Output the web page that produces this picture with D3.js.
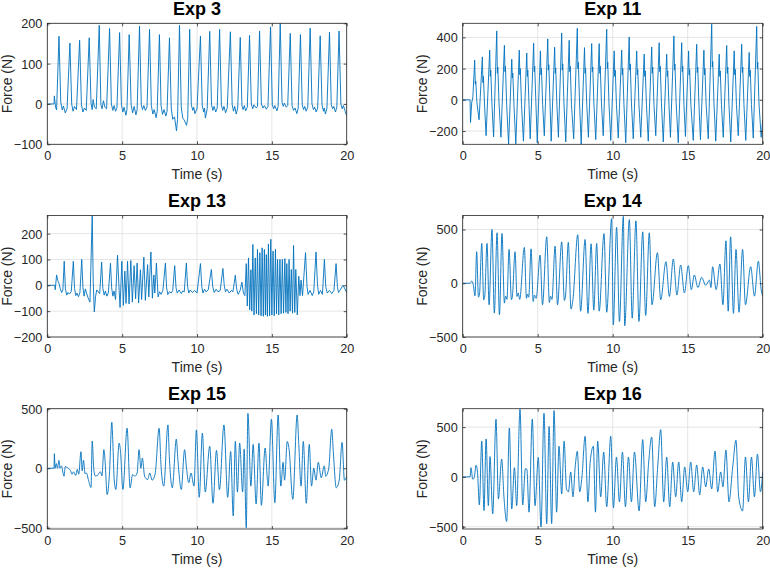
<!DOCTYPE html>
<html><head><meta charset="utf-8">
<script src="https://cdn.jsdelivr.net/npm/d3@7"></script>
<style>body{margin:0;background:#fff}svg text{font-family:"Liberation Sans",Arial,Helvetica,sans-serif}</style>
</head><body><svg id="c" width="770" height="568"></svg>
<script>
// ---------- data (time s, force N) ----------
const titles = ["Exp 3","Exp 11","Exp 13","Exp 14","Exp 15","Exp 16"];
const xTicks = [0,5,10,15,20];
const yTicks3 = [-100,0,100,200];
const yTicks11 = [-200,0,200,400];
const yTicks13 = [-200,-100,0,100,200];
const yTicks14 = [-500,0,500];
const yTicks15 = [-500,0,500];
const yTicks16 = [-500,0,500];
const yRange3 = [-100,200], yRange11 = [-285,490], yRange13 = [-200,270];
const yRange14 = [-500,630], yRange15 = [-510,500], yRange16 = [-523,685];

const exp3 = [[0,0],[0.45,0],[0.47,20],[0.55,-8],[0.62,-15],[0.78,168],[0.9,5],[1.0,-15],[1.08,-5],[1.2,-22],[1.32,-12],
[1.51,151],[1.63,0],[1.72,-18],[1.82,-6],[1.95,-14],[2.16,158],[2.28,-2],[2.38,-20],[2.48,-10],[2.6,-16],
[2.8,164],[2.92,2],[3.0,-14],[3.06,11],[3.15,-8],[3.27,-12],[3.47,195],[3.58,-2],[3.66,-12],[3.75,8],[3.85,-8],[3.96,-12],
[4.16,187],[4.28,0],[4.38,-16],[4.46,-4],[4.56,-18],[4.65,-10],[4.83,177],[4.95,-2],[5.05,-20],[5.13,-8],[5.25,-28],[5.32,-14],
[5.47,172],[5.6,-2],[5.7,-22],[5.8,-6],[5.92,-27],[6.0,-14],[6.16,193],[6.28,-2],[6.36,-14],[6.45,-4],[6.55,-16],[6.66,-8],
[6.83,185],[6.95,-4],[7.05,-25],[7.14,-14],[7.27,-34],[7.34,-18],[7.49,172],[7.6,-4],[7.7,-26],[7.8,-14],[7.92,-30],[8.0,-18],
[8.16,164],[8.28,-10],[8.38,-38],[8.5,-32],[8.63,-67],[8.7,-38],[8.83,195],[8.95,-10],[9.05,-35],[9.15,-40],[9.3,-53],[9.38,-35],
[9.51,185],[9.62,-2],[9.72,-16],[9.78,-8],[9.86,-24],[10.0,-12],[10.23,168],[10.35,-4],[10.45,-20],[10.5,-10],[10.56,-35],[10.68,-12],
[10.85,180],[10.97,-2],[11.06,-16],[11.14,-6],[11.25,-20],[11.35,-10],[11.51,185],[11.63,-2],[11.72,-16],[11.8,-6],[11.91,-22],[12.02,-10],
[12.23,179],[12.35,-2],[12.44,-18],[12.52,-6],[12.62,-25],[12.72,-10],[12.89,165],[13.0,-4],[13.08,-14],[13.16,-4],[13.25,-17],[13.36,-8],
[13.51,170],[13.63,0],[13.72,-12],[13.8,-2],[13.96,-10],[14.04,-6],[14.18,181],[14.3,0],[14.4,-10],[14.5,-4],[14.63,-13],[14.74,-6],
[14.91,191],[15.03,-2],[15.12,-12],[15.2,-4],[15.34,-17],[15.42,-6],[15.56,200],[15.68,4],[15.76,-6],[15.84,2],[15.96,-8],[16.06,-4],
[16.23,175],[16.35,-4],[16.45,-16],[16.55,-10],[16.67,-24],[16.76,-10],[16.91,172],[17.03,-2],[17.12,-14],[17.2,-6],[17.29,-18],[17.4,-8],
[17.56,188],[17.68,0],[17.78,-14],[17.86,-8],[17.96,-20],[18.06,-10],[18.23,169],[18.35,-2],[18.45,-18],[18.5,-10],[18.58,-25],[18.68,-10],
[18.85,178],[18.97,-2],[19.06,-12],[19.14,-6],[19.25,-20],[19.34,-8],[19.49,181],[19.61,0],[19.7,-12],[19.78,-4],[19.9,-18],[20,-30]];

const exp11 = [[0,0],[0.49,0],[0.52,-145],[0.6,-20],[0.68,20],
[0.8,254],[0.84,100],[0.87,120],[0.95,-20],[1.09,-128],
[1.31,275],[1.35,110],[1.38,150],[1.46,-40],[1.56,-230],
[1.8,318],[1.84,150],[1.87,190],[1.95,-30],[2.06,-237],
[2.27,441],[2.31,170],[2.34,210],[2.42,-20],[2.55,-240],
[2.78,349],[2.82,180],[2.85,215],[2.93,-30],[3.06,-285],
[3.27,260],[3.31,140],[3.34,170],[3.42,-40],[3.54,-282],
[3.77,318],[3.81,160],[3.84,200],[3.92,-30],[4.05,-265],
[4.27,300],[4.31,150],[4.34,190],[4.42,-30],[4.5,-250],
[4.73,362],[4.77,180],[4.8,215],[4.88,-20],[4.97,-275],
[5.18,313],[5.22,160],[5.25,200],[5.33,-30],[5.44,-230],
[5.67,390],[5.71,190],[5.74,225],[5.82,-20],[5.9,-265],
[6.13,337],[6.17,170],[6.2,205],[6.28,-30],[6.38,-240],
[6.6,428],[6.64,190],[6.67,230],[6.75,-20],[6.87,-270],
[7.1,381],[7.14,180],[7.17,215],[7.25,-30],[7.4,-250],
[7.64,458],[7.68,200],[7.71,240],[7.79,-20],[7.9,-285],
[8.12,334],[8.16,170],[8.19,205],[8.27,-30],[8.38,-240],
[8.6,360],[8.64,180],[8.67,210],[8.75,-30],[8.87,-255],
[9.1,360],[9.14,170],[9.17,215],[9.25,-20],[9.37,-230],
[9.6,452],[9.64,200],[9.67,240],[9.75,-20],[9.87,-260],
[10.1,313],[10.14,150],[10.17,190],[10.25,-30],[10.37,-245],
[10.6,318],[10.64,160],[10.67,200],[10.75,-30],[10.87,-275],
[11.1,402],[11.14,190],[11.17,230],[11.25,-20],[11.37,-250],
[11.6,313],[11.64,160],[11.67,195],[11.75,-30],[11.87,-240],
[12.1,292],[12.14,150],[12.17,185],[12.25,-30],[12.37,-265],
[12.6,338],[12.64,170],[12.67,210],[12.75,-30],[12.87,-230],
[13.1,366],[13.14,180],[13.17,215],[13.25,-20],[13.37,-270],
[13.6,292],[13.64,150],[13.67,185],[13.75,-30],[13.85,-240],
[14.08,409],[14.12,190],[14.15,230],[14.23,-20],[14.37,-275],
[14.6,366],[14.64,180],[14.67,215],[14.75,-30],[14.85,-235],
[15.06,313],[15.1,160],[15.13,195],[15.21,-30],[15.37,-260],
[15.6,356],[15.64,175],[15.67,210],[15.75,-30],[15.85,-255],
[16.08,318],[16.12,160],[16.15,200],[16.23,-30],[16.37,-250],
[16.6,484],[16.64,210],[16.67,245],[16.75,-20],[16.87,-265],
[17.1,292],[17.14,150],[17.17,185],[17.25,-30],[17.37,-240],
[17.6,348],[17.64,170],[17.67,210],[17.75,-30],[17.87,-270],
[18.1,313],[18.14,160],[18.17,195],[18.25,-30],[18.37,-230],
[18.6,356],[18.64,175],[18.67,210],[18.75,-30],[18.87,-260],
[19.1,303],[19.14,150],[19.17,190],[19.25,-30],[19.37,-245],
[19.6,470],[19.64,200],[19.67,240],[19.75,-20],[19.9,-240],[20,-130]];

const exp13 = [[0,0],[0.5,0],[0.53,-17],[0.62,40],[0.7,18],[0.78,8],[0.86,-12],[0.96,-28],[1.04,-18],
[1.13,93],[1.21,-15],[1.3,-38],[1.38,-28],[1.48,-34],[1.6,-24],
[1.74,93],[1.82,-12],[1.9,-40],[1.98,-30],[2.08,-44],[2.18,-28],
[2.3,100],[2.38,-8],[2.46,-42],[2.54,-14],[2.62,-30],[2.72,-48],[2.85,-65],
[3.0,270],[3.07,10],[3.14,-103],[3.22,-45],[3.3,-18],[3.4,-25],[3.5,-32],
[3.63,90],[3.71,-12],[3.8,-38],[3.88,-22],[3.98,-42],[4.08,-28],
[4.22,85],[4.3,-10],[4.38,-42],[4.46,-22],[4.56,-55],
[4.69,116],[4.8,-20],[4.86,-86],[4.98,93],[5.08,-78],[5.18,55],[5.26,-70],[5.36,93],[5.46,-72],[5.58,96],[5.68,-65],[5.8,76],[5.9,-52],[6.0,86],[6.1,-68],[6.22,60],[6.3,-55],[6.45,109],[6.55,-58],[6.7,80],[6.78,-45],[6.92,129],[7.02,-50],[7.12,40],[7.18,-30],[7.29,86],[7.4,-45],[7.5,-25],[7.6,-35],[7.72,-20],
[7.89,86],[7.97,-10],[8.05,-36],[8.15,-25],[8.28,-30],[8.38,-20],
[8.51,76],[8.6,-10],[8.68,-30],[8.8,-18],[8.95,-32],[9.05,-22],[9.15,-25],
[9.29,86],[9.37,-5],[9.45,-30],[9.55,-18],[9.7,-28],[9.85,-20],[10.0,-30],
[10.23,84],[10.32,-5],[10.4,-30],[10.5,-15],[10.6,-25],[10.75,-18],
[10.96,61],[11.05,-5],[11.15,-28],[11.28,-15],[11.4,-25],[11.55,-20],
[11.73,65],[11.82,0],[11.9,-25],[12.0,-15],[12.15,-30],[12.3,-20],[12.4,-25],
[12.56,39],[12.65,-15],[12.75,-35],[12.88,-20],[13.0,12],[13.1,-30],[13.2,-40],
[13.29,84],[13.36,-80],[13.44,106],[13.52,-95],[13.6,60],[13.66,-100],[13.73,158],[13.81,-115],[13.89,106],[13.97,-110],[14.04,139],[14.12,-115],[14.2,126],[14.28,-118],[14.35,145],[14.43,-120],[14.5,139],[14.57,-115],[14.63,119],[14.7,-120],[14.77,160],[14.85,-118],[14.93,178],[15.0,-115],[15.08,132],[15.16,-118],[15.24,139],[15.31,-110],[15.38,100],[15.46,-115],[15.54,100],[15.62,-110],[15.7,100],[15.78,-108],[15.87,103],[15.94,-105],[16.0,84],[16.08,-110],[16.15,100],[16.22,-100],[16.3,61],[16.38,-108],[16.45,154],[16.53,-105],[16.6,61],[16.7,-115],[16.8,35],[16.88,-40],[16.95,20],[17.05,-40],
[17.25,126],[17.35,-5],[17.42,-35],[17.55,-20],[17.7,-40],[17.8,-25],
[17.95,129],[18.05,0],[18.13,-35],[18.25,-20],[18.38,-35],
[18.51,100],[18.6,-5],[18.7,-30],[18.85,-20],[19.0,-32],[19.15,-20],
[19.29,84],[19.38,-5],[19.45,-28],[19.6,-15],[19.75,0],[19.85,-10],[20,-28]];

const exp14 = [[0,0],[0.5,0],[0.6,20],[0.7,-10],[0.82,-117],[0.93,293],[1.05,-129],[1.12,-100],[1.27,370],[1.4,-154],[1.47,-120],[1.62,370],[1.76,-200],
[1.95,500],[2.11,-278],[2.29,469],[2.45,-293],[2.62,463],[2.78,-185],[2.86,-120],[2.95,-150],[3.09,314],[3.25,-154],[3.32,-110],[3.49,293],[3.62,-123],[3.7,-90],[3.8,-150],
[4.11,333],[4.25,-140],[4.32,-100],[4.4,-130],[4.56,320],[4.7,-170],[4.78,-110],[4.9,-140],[5.16,262],[5.32,-200],[5.6,432],[5.78,-180],[5.85,-120],[5.95,-150],
[6.16,345],[6.32,-200],[6.6,385],[6.78,-160],[6.86,-110],[7.04,380],[7.22,-240],[7.35,-150],[7.67,451],[7.86,-260],[8.16,407],[8.35,-280],[8.56,367],[8.74,-250],
[8.93,370],[9.1,-260],[9.42,462],[9.6,-270],[9.93,601],[10.04,-387],[10.26,520],[10.45,-356],[10.71,623],[10.8,-396],[11.11,592],[11.3,-325],[11.55,580],[11.75,-356],
[12.0,478],[12.2,-300],[12.44,469],[12.62,-200],[12.98,284],[13.2,-154],[13.55,200],[13.78,-123],[14.04,225],[14.28,-110],[14.53,170],[14.78,-90],[15.04,164],[15.24,-60],
[15.44,77],[15.68,-40],[15.93,55],[16.2,-20],[16.45,30],[16.55,-40],[16.66,154],[16.9,-60],[17.15,179],[17.35,-200],[17.55,395],[17.7,-260],[17.86,432],[18.05,-280],
[18.22,314],[18.42,-270],[18.66,314],[18.85,-200],[19.2,154],[19.45,-120],[19.71,206],[19.9,-60],[20,-123]];

const exp15 = [[0,0],[0.45,0],[0.47,122],[0.52,0],[0.6,39],[0.68,0],[0.78,67],[0.85,0],[0.95,20],[1.05,-40],[1.12,-67],[1.2,14],[1.28,10],[1.4,0],[1.55,-20],[1.65,-50],[1.75,-30],[1.9,-60],[2.0,-10],[2.1,-50],
[2.25,139],[2.33,-22],[2.42,67],[2.52,-45],[2.62,-40],[2.75,-100],[2.92,-161],[3.0,228],[3.1,0],[3.2,-64],[3.35,-60],[3.55,-30],[3.65,-64],[3.78,156],[3.85,78],[4.0,-222],[4.15,-50],
[4.31,386],[4.38,211],[4.47,-97],[4.58,-178],[4.8,211],[4.88,156],[5.05,-178],[5.33,336],[5.53,-164],[5.7,-53],[5.85,-67],[6.0,-40],[6.13,156],[6.25,0],[6.35,86],[6.5,-67],[6.7,-95],[6.85,-40],[7.0,-100],[7.2,-50],
[7.47,336],[7.6,14],[7.78,-150],[8.06,364],[8.15,100],[8.35,-164],[8.62,245],[8.72,78],[8.95,-178],[9.17,156],[9.3,0],[9.45,-122],[9.6,-40],[9.8,-150],[9.96,322],[10.15,-244],[10.36,295],[10.55,-200],[10.85,184],[11.07,-294],
[11.3,150],[11.5,-180],[11.8,364],[12.05,-244],[12.25,140],[12.42,-400],[12.56,225],[12.7,-200],[12.85,211],[13.05,-200],[13.15,160],[13.29,-500],[13.4,461],[13.6,-150],[13.75,200],[13.95,-300],[14.14,211],[14.3,-311],[14.55,170],[14.7,-94],[14.75,-150],
[14.97,411],[15.2,-289],[15.42,447],[15.6,-150],[15.75,50],[15.85,-100],[16.03,225],[16.15,160],[16.4,-261],[16.69,447],[16.8,200],[16.95,-150],[17.1,225],[17.3,-294],[17.5,200],[17.65,-150],[17.8,0],[17.95,-100],[18.1,50],[18.3,-80],[18.5,20],[18.6,-67],[18.8,0],
[19.0,328],[19.1,150],[19.3,-164],[19.5,-100],[19.69,217],[19.85,-100],[20,-67]];

const exp16 = [[0,0],[0.49,0],[0.55,93],[0.67,-23],[0.77,-5],[0.89,117],[0.98,60],[1.11,-281],[1.27,358],[1.42,-338],[1.56,381],[1.71,-288],[1.82,204],[2.0,-371],[2.22,580],[2.38,-221],[2.6,180],[2.75,-200],[2.93,-447],
[3.11,490],[3.27,-321],[3.45,93],[3.6,-288],[3.82,680],[4.0,-281],[4.18,83],[4.28,76],[4.42,-354],[4.64,580],[4.82,-288],[5.04,195],[5.22,-503],[5.42,640],[5.6,-470],[5.76,507],[5.93,-470],[6.09,666],[6.26,-354],[6.42,308],[6.6,-172],[6.76,358],[6.92,-122],
[7.05,-150],[7.2,50],[7.35,-200],[7.5,100],[7.64,257],[7.8,-150],[7.95,0],[8.16,408],[8.35,-250],[8.5,150],[8.71,308],[8.85,-354],[9.0,358],[9.2,-200],[9.4,250],[9.6,-300],[9.87,408],[10.05,-309],[10.25,200],[10.45,-250],[10.65,250],[10.85,-300],[11.05,200],[11.25,-250],[11.45,250],[11.76,-342],
[12.0,375],[12.2,-250],[12.4,150],[12.6,401],[12.8,-300],[13.0,100],[13.2,475],[13.4,-250],[13.6,200],[13.8,-300],[14.0,150],[14.2,-200],[14.4,150],[14.6,-250],[14.8,100],[15.0,-150],[15.2,150],[15.4,-150],[15.6,120],[15.8,-180],[16.0,100],[16.2,-100],[16.4,80],[16.6,-120],
[16.82,260],[17.0,-150],[17.2,50],[17.35,-100],[17.55,270],[17.75,-250],[18.0,100],[18.22,368],[18.4,-200],[18.66,-342],[18.85,200],[19.05,-250],[19.25,200],[19.45,-200],[19.65,230],[19.85,-150],[20,50]];

// ---------- layout ----------
const cols = [{x0:47.3,x1:346.7,lab:11.7},{x0:462.7,x1:762.7,lab:427}];
const rows = [{y0:23.3,y1:144.3},{y0:215.5,y1:337},{y0:408.7,y1:529}];
const panels = [
 {data:exp3, dom:yRange3, ticks:yTicks3, c:0, r:0, curve:d3.curveLinear},
 {data:exp11, dom:yRange11, ticks:yTicks11, c:1, r:0, curve:d3.curveLinear},
 {data:exp13, dom:yRange13, ticks:yTicks13, c:0, r:1, curve:d3.curveLinear},
 {data:exp14, dom:yRange14, ticks:yTicks14, c:1, r:1, curve:d3.curveMonotoneX},
 {data:exp15, dom:yRange15, ticks:yTicks15, c:0, r:2, curve:d3.curveMonotoneX},
 {data:exp16, dom:yRange16, ticks:yTicks16, c:1, r:2, curve:d3.curveMonotoneX}
];
const svg = d3.select("#c");
const axCol = "#262626", gridCol = "#dedede", lineCol = "#0072bd";

panels.forEach((p,i)=>{
  const {x0,x1,lab} = cols[p.c], {y0,y1} = rows[p.r];
  const x = d3.scaleLinear().domain([0,20]).range([x0,x1]);
  const y = d3.scaleLinear().domain(p.dom).range([y1,y0]);
  const g = svg.append("g");
  // grid
  g.selectAll(".gx").data(xTicks).join("line")
    .attr("x1",d=>x(d)).attr("x2",d=>x(d)).attr("y1",y0).attr("y2",y1)
    .attr("stroke",gridCol).attr("stroke-width",0.8);
  g.selectAll(".gy").data(p.ticks).join("line")
    .attr("y1",d=>y(d)).attr("y2",d=>y(d)).attr("x1",x0).attr("x2",x1)
    .attr("stroke",gridCol).attr("stroke-width",0.8);
  // data line
  const cid = "clip"+i;
  svg.append("clipPath").attr("id",cid).append("rect")
    .attr("x",x0).attr("y",y0).attr("width",x1-x0).attr("height",y1-y0);
  g.append("path").datum(p.data)
    .attr("clip-path",`url(#${cid})`)
    .attr("fill","none").attr("stroke",lineCol).attr("stroke-width",0.9)
    .attr("stroke-linejoin","round")
    .attr("d",d3.line().x(d=>x(d[0])).y(d=>y(d[1])).curve(p.curve));
  // axes (inward ticks on all sides)
  const tl = 3;
  const ab = g.append("g").attr("transform",`translate(0,${y1})`)
    .call(d3.axisBottom(x).tickValues(xTicks).tickSizeInner(-tl).tickSizeOuter(0).tickPadding(6));
  const at = g.append("g").attr("transform",`translate(0,${y0})`)
    .call(d3.axisTop(x).tickValues(xTicks).tickSizeInner(-tl).tickSizeOuter(0).tickFormat(""));
  const al = g.append("g").attr("transform",`translate(${x0},0)`)
    .call(d3.axisLeft(y).tickValues(p.ticks).tickSizeInner(-tl).tickSizeOuter(0).tickPadding(5));
  const ar = g.append("g").attr("transform",`translate(${x1},0)`)
    .call(d3.axisRight(y).tickValues(p.ticks).tickSizeInner(-tl).tickSizeOuter(0).tickFormat(""));
  [ab,at,al,ar].forEach(a=>{
    a.select(".domain").remove();
    a.selectAll("line").attr("stroke",axCol).attr("stroke-width",0.8);
    a.selectAll("text").attr("fill",axCol).attr("font-size","12.7px")
      .attr("font-family",'"Liberation Sans",Arial,sans-serif');
  });
  ab.selectAll("text").attr("dy",null).attr("y",15.7);
  al.selectAll("text").attr("dy","0.35em");
  g.append("rect").attr("x",x0).attr("y",y0).attr("width",x1-x0).attr("height",y1-y0)
    .attr("fill","none").attr("stroke",axCol).attr("stroke-width",0.8);
  // labels
  g.append("text").attr("x",(x0+x1)/2).attr("y",y1+35).attr("text-anchor","middle")
    .attr("font-size","14px").attr("fill",axCol).text("Time (s)");
  g.append("text").attr("transform",`translate(${lab},${(y0+y1)/2}) rotate(-90)`)
    .attr("text-anchor","middle").attr("font-size","14px").attr("fill",axCol).text("Force (N)");
  g.append("text").attr("x",(x0+x1)/2).attr("y",y0-8.3).attr("text-anchor","middle")
    .attr("font-size","18px").attr("font-weight","bold").attr("fill","#000").text(titles[i]);
});
</script></body></html>
